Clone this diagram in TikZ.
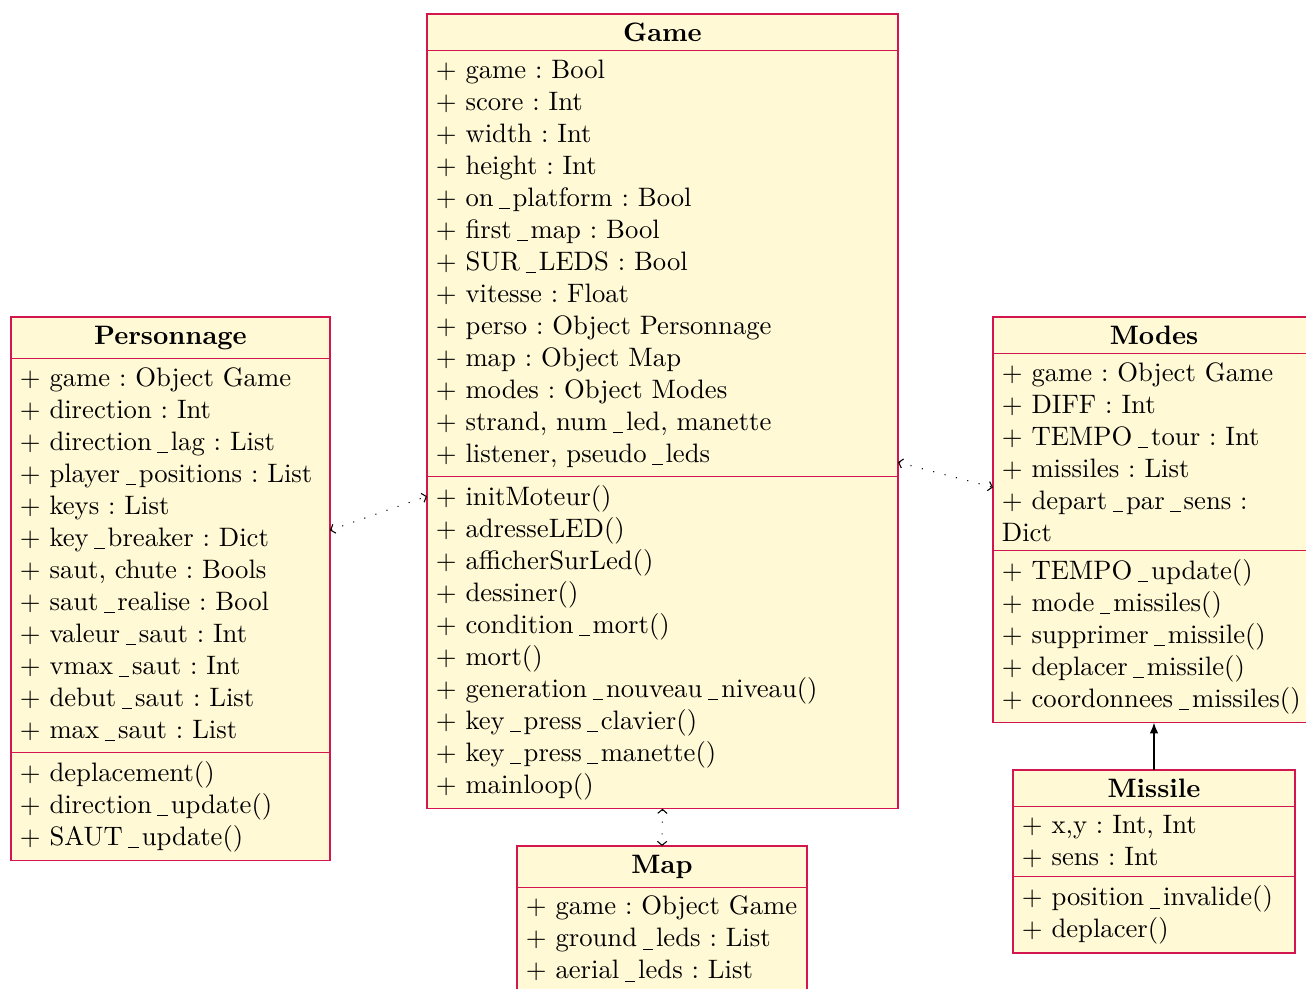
\documentclass[tikz,border=0pt]{standalone}
\usetikzlibrary{arrows.meta,positioning}
\definecolor{umlred}{RGB}{212,22,80}
\definecolor{umlfill}{RGB}{255,249,214}
\tikzset{
  umlbox/.style={draw=umlred, fill=umlfill, line width=0.45pt, inner sep=3.33pt, outer sep=0pt},
  clstitle/.style={umlbox, font=\bfseries, align=center, anchor=north west},
  clsbody/.style={umlbox, align=left, anchor=north},
  assoc/.style={draw=black, line width=0.4pt, loosely dotted,
    {Straight Barb[length=1.5pt,width=3.5pt,line width=0.4pt]}-{Straight Barb[length=1.5pt,width=3.5pt,line width=0.4pt]}},
  inherit/.style={draw=black, line width=0.45pt, -{Latex[length=4pt,width=3.2pt]}},
}
\renewcommand{\_}{\leavevmode\kern2.1pt\rule[-1.1pt]{3.9pt}{0.35pt}\rule[-2pt]{0pt}{2pt}\kern1.1pt}
\newcommand{\pl}[1]{\mbox{$+$ #1}}
\frenchspacing
\begin{document}
\begin{tikzpicture}[x=0.375pt,y=-0.375pt]
\useasboundingbox (0,0) rectangle (1306,988);

% Game
\node[clstitle, minimum width=176.6pt] (game) at (427,14) {Game};
\node[clsbody, text width=176.6pt-6.66pt] (gameA) at (game.south) {%
\pl{game : Bool}\\
\pl{score : Int}\\
\pl{width : Int}\\
\pl{height : Int}\\
\pl{on\_platform : Bool}\\
\pl{first\_map : Bool}\\
\pl{SUR\_LEDS : Bool}\\
\pl{vitesse : Float}\\
\pl{perso : Object Personnage}\\
\pl{map : Object Map}\\
\pl{modes : Object Modes}\\
\pl{strand, num\_led, manette}\\
\pl{listener, pseudo\_leds}};
\node[clsbody, text width=176.6pt-6.66pt] (gameM) at (gameA.south) {%
\pl{initMoteur()}\\
\pl{adresseLED()}\\
\pl{afficherSurLed()}\\
\pl{dessiner()}\\
\pl{condition\_mort()}\\
\pl{mort()}\\
\pl{generation\_nouveau\_niveau()}\\
\pl{key\_press\_clavier()}\\
\pl{key\_press\_manette()}\\
\pl{mainloop()}};

% Personnage
\node[clstitle, minimum width=119.6pt] (perso) at (11,317) {Personnage};
\node[clsbody, text width=119.6pt-6.66pt] (persoA) at (perso.south) {%
\pl{game : Object Game}\\
\pl{direction : Int}\\
\pl{direction\_lag : List}\\
\pl{player\_positions : List}\\
\pl{keys : List}\\
\pl{key\_breaker : Dict}\\
\pl{saut, chute : Bools}\\
\pl{saut\_realise : Bool}\\
\pl{valeur\_saut : Int}\\
\pl{vmax\_saut : Int}\\
\pl{debut\_saut : List}\\
\pl{max\_saut : List}};
\node[clsbody, text width=119.6pt-6.66pt] (persoM) at (persoA.south) {%
\pl{deplacement()}\\
\pl{direction\_update()}\\
\pl{SAUT\_update()}};

% Modes
\node[clstitle, minimum width=120.75pt] (modes) at (993,317) {Modes};
\node[clsbody, text width=120.75pt-6.66pt] (modesA) at (modes.south) {%
\pl{game : Object Game}\\
\pl{DIFF : Int}\\
\pl{TEMPO\_tour : Int}\\
\pl{missiles : List}\\
\pl{depart\_par\_sens :}\\
Dict};
\node[clsbody, text width=120.75pt-6.66pt] (modesM) at (modesA.south) {%
\pl{TEMPO\_update()}\\
\pl{mode\_missiles()}\\
\pl{supprimer\_missile()}\\
\pl{deplacer\_missile()}\\
\pl{coordonnees\_missiles()}};

% Missile
\node[clstitle, minimum width=105.75pt] (missile) at (1013,770) {Missile};
\node[clsbody, text width=105.75pt-6.66pt] (missileA) at (missile.south) {%
\pl{x,y : Int, Int}\\
\pl{sens : Int}};
\node[clsbody, text width=105.75pt-6.66pt] (missileM) at (missileA.south) {%
\pl{position\_invalide()}\\
\pl{deplacer()}};

% Map
\node[clstitle, minimum width=108.75pt] (map) at (517,846) {Map};
\node[clsbody, text width=108.75pt-6.66pt] (mapA) at (map.south) {%
\pl{game : Object Game}\\
\pl{ground\_leds : List}\\
\pl{aerial\_leds : List}};

% connectors
\draw[assoc] ([yshift=9.4pt]persoA.east) -- ([yshift=-7.5pt]gameM.north west);
\draw[assoc] ([yshift=5.25pt]gameA.south east) -- ([yshift=23.6pt]modesA.south west);
\draw[assoc] (gameM.south) -- (map.north);
\draw[inherit] (missile.north) -- (modesM.south);
\end{tikzpicture}
\end{document}
